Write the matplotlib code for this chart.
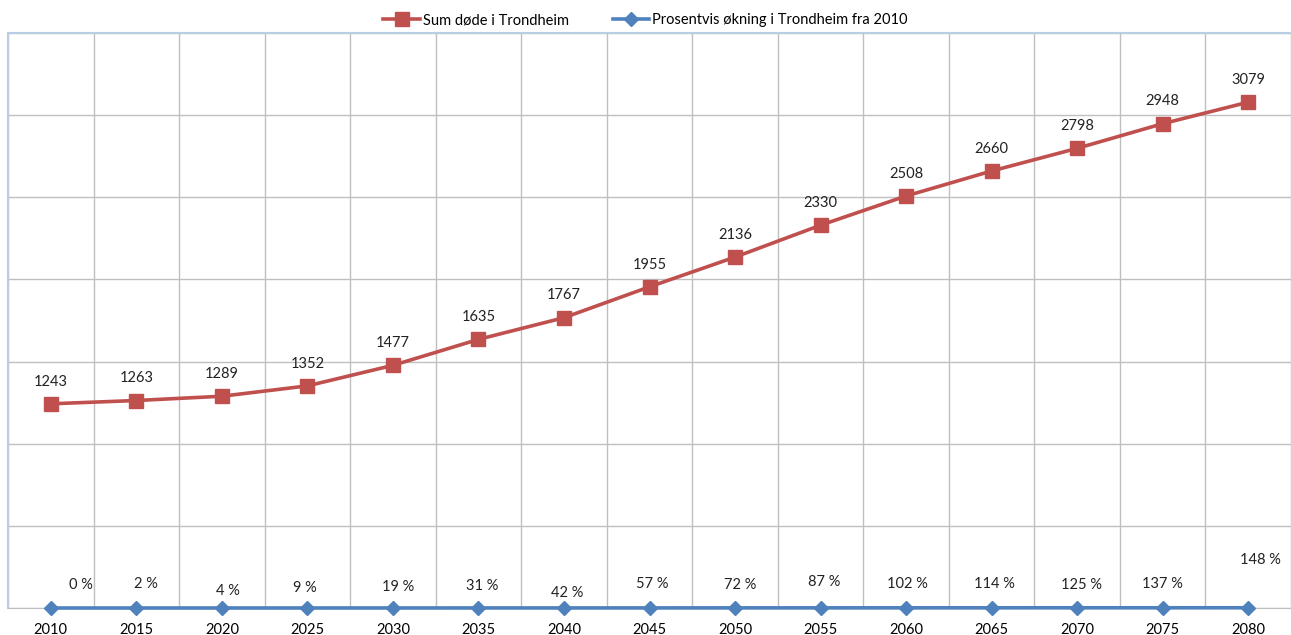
import matplotlib

matplotlib.use("Agg")

import matplotlib.pyplot as plt
import numpy as np
from matplotlib.ticker import MultipleLocator

# data
years = [2010, 2015, 2020, 2025, 2030, 2035, 2040, 2045, 2050, 2055, 2060, 2065, 2070, 2075, 2080]
deaths = [1243, 1263, 1289, 1352, 1477, 1635, 1767, 1955, 2136, 2330, 2508, 2660, 2798, 2948, 3079]
pct_increase = [0, 2, 4, 9, 19, 31, 42, 57, 72, 87, 102, 114, 125, 137, 148]

deaths_label = "Sum døde i Trondheim"
pct_label = "Prosentvis økning i Trondheim fra 2010"

# label offsets (points) for the percent labels, as placed in the original
pct_offsets = [(22, 16.5), (7, 17.3), (4.5, 12.2), (-2, 14.4), (3.5, 15), (2.5, 15.8),
               (2, 10.8), (2, 17.3), (3.5, 16.5), (2.5, 18.7), (1, 17.3), (2, 17.3),
               (3, 16.5), (0, 17.3), (9, 34.5)]

RED = "#C0504D"
BLUE = "#4F81BD"
GRID = "#BFBFBF"
FRAME = "#B9CDE5"

plt.rcParams["font.family"] = ["Lato", "DejaVu Sans"]

fig = plt.figure(figsize=(12.91, 6.35), dpi=100)
ax = fig.add_axes([8 / 1291, 1 - 608 / 635, 1 - 8 / 1291, (608 - 33) / 635])

x = np.arange(len(years))
ax.plot(x, deaths, color=RED, lw=2.6, marker="s", ms=9.5, label=deaths_label, zorder=4)
ax.plot(x, np.array(pct_increase) / 100.0, color=BLUE, lw=2.6, marker="D", ms=7,
        label=pct_label, zorder=5, clip_on=False)

for xi, v in zip(x, deaths):
    ax.annotate(str(v), (xi, v), xytext=(0, 16), textcoords="offset points",
                ha="center", va="center", fontsize=10.5, color="#222222")
for xi, p, off in zip(x, pct_increase, pct_offsets):
    ax.annotate(f"{p} %", (xi, p / 100.0), xytext=off, textcoords="offset points",
                ha="center", va="center", fontsize=10.5, color="#222222")

ax.set_xlim(-0.5, len(years) - 0.5)
ax.set_ylim(0, 3500)
ax.yaxis.set_major_locator(MultipleLocator(500))
ax.set_yticklabels([])
ax.tick_params(axis="y", length=0)
ax.set_xticks(x)
ax.set_xticklabels([str(y) for y in years], fontsize=10.5)
ax.tick_params(axis="x", length=0, pad=10.5)
ax.set_xticks(np.arange(-0.5, len(years), 1.0), minor=True)
ax.tick_params(axis="x", which="minor", length=0)

ax.grid(axis="y", which="major", color=GRID, lw=1)
ax.grid(axis="x", which="minor", color=GRID, lw=1)
ax.set_axisbelow(True)

for side in ("top", "left"):
    ax.spines[side].set_color(FRAME)
    ax.spines[side].set_linewidth(1.5)
ax.spines["right"].set_visible(False)
ax.spines["bottom"].set_color(GRID)

fig.legend(loc="upper center", bbox_to_anchor=(0.5, 1.0), ncol=2, frameon=False,
           fontsize=10.5, handlelength=2.5, columnspacing=3.0, handletextpad=0.2)

fig.savefig("out.png", dpi=100)
